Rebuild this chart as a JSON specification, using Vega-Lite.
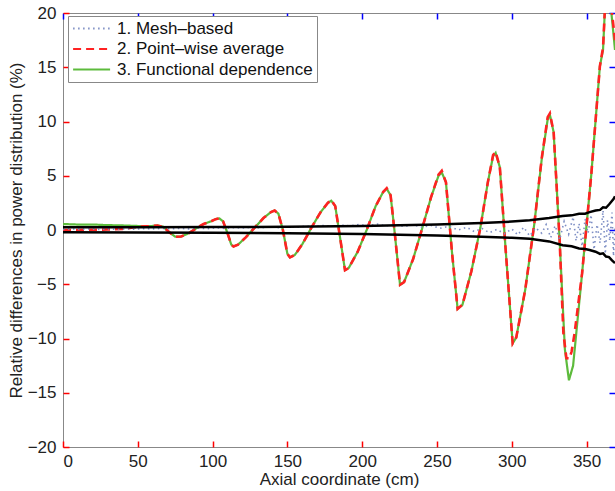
{
 "$schema": "https://vega.github.io/schema/vega-lite/v6.json",
 "width": 552, "height": 434,
 "autosize": {"type": "none"},
 "padding": {"left": 63, "top": 13, "right": 0, "bottom": 44},
 "background": "white",
 "config": {
  "view": {"stroke": "#888", "strokeWidth": 1},
  "font": "Liberation Sans",
  "axis": {"domain": false, "ticks": true, "tickOpacity": 1, "tickWidth": 1.5, "labelColor": "#222", "titleColor": "#222", "labelFontSize": 17, "titleFontSize": 17, "titleFontWeight": "normal", "grid": false},
  "legend": {"orient": "none", "legendX": 5, "legendY": 3, "strokeColor": "#888", "fillColor": "white", "padding": 4, "symbolType": "M-1,0H4", "symbolSize": 219, "symbolStrokeWidth": 2, "labelFontSize": 17, "labelColor": "#111", "labelOffset": 28, "rowPadding": 2.5, "title": null, "labelLimit": 400}
 },
 "data": {"values": [
  {"s":"g","x":0,"y":0.55},{"s":"g","x":10,"y":0.5},{"s":"g","x":20,"y":0.5},{"s":"g","x":30,"y":0.45},{"s":"g","x":40,"y":0.42},{"s":"g","x":50,"y":0.37},{"s":"g","x":58,"y":0.35},{"s":"g","x":63,"y":0.42},{"s":"g","x":67,"y":0.3},{"s":"g","x":71,"y":-0.2},{"s":"g","x":75,"y":-0.62},{"s":"g","x":79,"y":-0.6},{"s":"g","x":84,"y":-0.3},{"s":"g","x":89,"y":0.15},{"s":"g","x":94,"y":0.55},{"s":"g","x":99,"y":0.8},{"s":"g","x":102,"y":1.0},{"s":"g","x":104.5,"y":1.07},{"s":"g","x":107,"y":0.8},{"s":"g","x":110,"y":-0.3},{"s":"g","x":112.5,"y":-1.35},{"s":"g","x":114,"y":-1.52},{"s":"g","x":117,"y":-1.35},{"s":"g","x":122,"y":-0.7},{"s":"g","x":128,"y":0.2},{"s":"g","x":134,"y":1.1},{"s":"g","x":139,"y":1.65},{"s":"g","x":141.5,"y":1.8},{"s":"g","x":144,"y":1.5},{"s":"g","x":147,"y":0.0},{"s":"g","x":150,"y":-2.2},{"s":"g","x":151.7,"y":-2.52},{"s":"g","x":155,"y":-2.3},{"s":"g","x":160,"y":-1.3},{"s":"g","x":166,"y":0.2},{"s":"g","x":172,"y":1.6},{"s":"g","x":177,"y":2.5},{"s":"g","x":179.3,"y":2.7},{"s":"g","x":182,"y":2.2},{"s":"g","x":185,"y":-0.5},{"s":"g","x":188.5,"y":-3.7},{"s":"g","x":191,"y":-3.5},{"s":"g","x":197,"y":-2.0},{"s":"g","x":203,"y":0.0},{"s":"g","x":209,"y":2.2},{"s":"g","x":214,"y":3.5},{"s":"g","x":216.4,"y":3.8},{"s":"g","x":219,"y":3.2},{"s":"g","x":222,"y":-0.6},{"s":"g","x":225.3,"y":-5.05},{"s":"g","x":228,"y":-4.8},{"s":"g","x":234,"y":-2.7},{"s":"g","x":240,"y":0.1},{"s":"g","x":246,"y":3.0},{"s":"g","x":251,"y":5.0},{"s":"g","x":253.2,"y":5.3},{"s":"g","x":256,"y":4.4},{"s":"g","x":260,"y":-2.0},{"s":"g","x":263.8,"y":-7.27},{"s":"g","x":267,"y":-6.9},{"s":"g","x":273,"y":-3.8},{"s":"g","x":279,"y":0.2},{"s":"g","x":284,"y":4.4},{"s":"g","x":287.5,"y":6.8},{"s":"g","x":289.2,"y":7.1},{"s":"g","x":292,"y":5.8},{"s":"g","x":296,"y":-2.0},{"s":"g","x":300.6,"y":-10.45},{"s":"g","x":303,"y":-9.9},{"s":"g","x":309,"y":-5.5},{"s":"g","x":315,"y":0.5},{"s":"g","x":320,"y":6.5},{"s":"g","x":324,"y":10.2},{"s":"g","x":325.5,"y":10.6},{"s":"g","x":328,"y":9.0},{"s":"g","x":332,"y":-1.0},{"s":"g","x":335.5,"y":-11.0},{"s":"g","x":338.2,"y":-13.85},{"s":"g","x":341,"y":-12.5},{"s":"g","x":347,"y":-4.0},{"s":"g","x":353.2,"y":5.2},{"s":"g","x":358.9,"y":15.1},{"s":"g","x":361,"y":16.6},{"s":"g","x":362.3,"y":20.5},{"s":"g","x":364.3,"y":23},{"s":"g","x":366.6,"y":20},{"s":"g","x":369,"y":16.6},
  {"s":"r","x":0,"y":0.0},{"s":"r","x":10,"y":0.0},{"s":"r","x":20,"y":0.02},{"s":"r","x":30,"y":0.05},{"s":"r","x":40,"y":0.1},{"s":"r","x":48,"y":0.25},{"s":"r","x":55,"y":0.35},{"s":"r","x":58,"y":0.35},{"s":"r","x":63,"y":0.42},{"s":"r","x":67,"y":0.3},{"s":"r","x":71,"y":-0.2},{"s":"r","x":75,"y":-0.62},{"s":"r","x":79,"y":-0.6},{"s":"r","x":84,"y":-0.3},{"s":"r","x":89,"y":0.15},{"s":"r","x":94,"y":0.55},{"s":"r","x":99,"y":0.8},{"s":"r","x":102,"y":1.0},{"s":"r","x":104.5,"y":1.07},{"s":"r","x":107,"y":0.8},{"s":"r","x":110,"y":-0.3},{"s":"r","x":112.5,"y":-1.35},{"s":"r","x":114,"y":-1.52},{"s":"r","x":117,"y":-1.35},{"s":"r","x":122,"y":-0.7},{"s":"r","x":128,"y":0.2},{"s":"r","x":134,"y":1.1},{"s":"r","x":139,"y":1.65},{"s":"r","x":141.5,"y":1.8},{"s":"r","x":144,"y":1.5},{"s":"r","x":147,"y":0.0},{"s":"r","x":150,"y":-2.2},{"s":"r","x":151.7,"y":-2.52},{"s":"r","x":155,"y":-2.3},{"s":"r","x":160,"y":-1.3},{"s":"r","x":166,"y":0.2},{"s":"r","x":172,"y":1.6},{"s":"r","x":177,"y":2.5},{"s":"r","x":179.3,"y":2.75},{"s":"r","x":182,"y":2.2},{"s":"r","x":185,"y":-0.5},{"s":"r","x":188.5,"y":-3.7},{"s":"r","x":191,"y":-3.5},{"s":"r","x":197,"y":-2.0},{"s":"r","x":203,"y":0.0},{"s":"r","x":209,"y":2.2},{"s":"r","x":214,"y":3.5},{"s":"r","x":216.4,"y":3.85},{"s":"r","x":219,"y":3.2},{"s":"r","x":222,"y":-0.6},{"s":"r","x":225.3,"y":-5.05},{"s":"r","x":228,"y":-4.8},{"s":"r","x":234,"y":-2.7},{"s":"r","x":240,"y":0.1},{"s":"r","x":246,"y":3.0},{"s":"r","x":251,"y":5.1},{"s":"r","x":253.2,"y":5.45},{"s":"r","x":256,"y":4.4},{"s":"r","x":260,"y":-2.0},{"s":"r","x":263.8,"y":-7.27},{"s":"r","x":267,"y":-6.9},{"s":"r","x":273,"y":-3.8},{"s":"r","x":279,"y":0.2},{"s":"r","x":284,"y":4.4},{"s":"r","x":287.5,"y":6.9},{"s":"r","x":289.2,"y":7.2},{"s":"r","x":292,"y":5.8},{"s":"r","x":296,"y":-2.0},{"s":"r","x":300.6,"y":-10.45},{"s":"r","x":303,"y":-9.9},{"s":"r","x":309,"y":-5.5},{"s":"r","x":315,"y":0.5},{"s":"r","x":320,"y":6.6},{"s":"r","x":324,"y":10.4},{"s":"r","x":325.5,"y":10.75},{"s":"r","x":328,"y":9.0},{"s":"r","x":332,"y":-1.0},{"s":"r","x":334.5,"y":-9.5},{"s":"r","x":336.5,"y":-11.8},{"s":"r","x":338.5,"y":-11.85},{"s":"r","x":340,"y":-11.2},{"s":"r","x":342,"y":-9.5},{"s":"r","x":347,"y":-4.0},{"s":"r","x":353.2,"y":5.2},{"s":"r","x":358.9,"y":15.1},{"s":"r","x":361,"y":16.8},{"s":"r","x":362.3,"y":20.5},{"s":"r","x":364.3,"y":23},{"s":"r","x":366.6,"y":20.5},{"s":"r","x":369,"y":17.5},
  {"s":"m","x":0,"y":0.05},{"s":"m","x":6,"y":0.1},{"s":"m","x":12,"y":0.05},{"s":"m","x":18,"y":0.1},{"s":"m","x":24,"y":0.05},{"s":"m","x":30,"y":0.1},{"s":"m","x":36,"y":0.05},{"s":"m","x":42,"y":0.1},{"s":"m","x":48,"y":0.08},{"s":"m","x":54,"y":0.12},{"s":"m","x":60,"y":0.1},{"s":"m","x":66,"y":0.15},{"s":"m","x":72,"y":0.1},{"s":"m","x":78,"y":0.15},{"s":"m","x":84,"y":0.1},{"s":"m","x":90,"y":0.18},{"s":"m","x":96,"y":0.12},{"s":"m","x":102,"y":0.2},{"s":"m","x":108,"y":0.15},{"s":"m","x":114,"y":0.22},{"s":"m","x":120,"y":0.18},{"s":"m","x":126,"y":0.25},{"s":"m","x":132,"y":0.2},{"s":"m","x":138,"y":0.28},{"s":"m","x":144,"y":0.22},{"s":"m","x":150,"y":0.3},{"s":"m","x":156,"y":0.25},{"s":"m","x":162,"y":0.35},{"s":"m","x":168,"y":0.3},{"s":"m","x":174,"y":0.42},{"s":"m","x":180,"y":0.35},{"s":"m","x":186,"y":0.45},{"s":"m","x":192,"y":0.38},{"s":"m","x":198,"y":0.5},{"s":"m","x":204,"y":0.4},{"s":"m","x":210,"y":0.55},{"s":"m","x":216,"y":0.38},{"s":"m","x":222,"y":0.52},{"s":"m","x":228,"y":0.32},{"s":"m","x":234,"y":0.48},{"s":"m","x":240,"y":0.25},{"s":"m","x":246,"y":0.42},{"s":"m","x":252,"y":0.15},{"s":"m","x":258,"y":0.35},{"s":"m","x":264,"y":0.0},{"s":"m","x":270,"y":0.25},{"s":"m","x":275,"y":-0.15},{"s":"m","x":280,"y":0.15},{"s":"m","x":285,"y":-0.25},{"s":"m","x":290,"y":0.05},{"s":"m","x":295,"y":-0.35},{"s":"m","x":300,"y":0.1},{"s":"m","x":304,"y":-0.45},{"s":"m","x":308,"y":0.25},{"s":"m","x":312,"y":-0.55},{"s":"m","x":316,"y":0.2},{"s":"m","x":320,"y":-0.3},{"s":"m","x":323,"y":0.5},{"s":"m","x":326,"y":-0.7},{"s":"m","x":329,"y":0.4},{"s":"m","x":332,"y":-0.9},{"s":"m","x":335,"y":0.8},{"s":"m","x":338,"y":-0.4},{"s":"m","x":341,"y":1.2},{"s":"m","x":343,"y":-1.0},{"s":"m","x":345,"y":0.6},{"s":"m","x":347,"y":-1.5},{"s":"m","x":349,"y":1.0},{"s":"m","x":351,"y":-0.3},{"s":"m","x":353,"y":1.4},{"s":"m","x":355,"y":-1.8},{"s":"m","x":357,"y":0.5},{"s":"m","x":359,"y":-1.2},{"s":"m","x":361,"y":1.8},{"s":"m","x":362.5,"y":-2.2},{"s":"m","x":364,"y":0.9},{"s":"m","x":365.5,"y":-1.0},{"s":"m","x":367,"y":1.6},{"s":"m","x":368,"y":-2.4},{"s":"m","x":369,"y":0.3},
  {"s":"u","x":0,"y":0.25},{"s":"u","x":50,"y":0.25},{"s":"u","x":100,"y":0.27},{"s":"u","x":150,"y":0.3},{"s":"u","x":200,"y":0.38},{"s":"u","x":250,"y":0.5},{"s":"u","x":280,"y":0.64},{"s":"u","x":300,"y":0.78},{"s":"u","x":312,"y":0.9},{"s":"u","x":325,"y":1.1},{"s":"u","x":334,"y":1.3},{"s":"u","x":340,"y":1.35},{"s":"u","x":345,"y":1.5},{"s":"u","x":349,"y":1.5},{"s":"u","x":352,"y":1.65},{"s":"u","x":356,"y":1.8},{"s":"u","x":359,"y":1.85},{"s":"u","x":361,"y":2.1},{"s":"u","x":363,"y":2.05},{"s":"u","x":365,"y":2.35},{"s":"u","x":366.5,"y":2.6},{"s":"u","x":368,"y":2.85},{"s":"u","x":369,"y":3.1},
  {"s":"l","x":0,"y":-0.2},{"s":"l","x":50,"y":-0.22},{"s":"l","x":100,"y":-0.25},{"s":"l","x":150,"y":-0.3},{"s":"l","x":200,"y":-0.38},{"s":"l","x":250,"y":-0.5},{"s":"l","x":280,"y":-0.62},{"s":"l","x":300,"y":-0.72},{"s":"l","x":312,"y":-0.8},{"s":"l","x":325,"y":-1.05},{"s":"l","x":334,"y":-1.4},{"s":"l","x":340,"y":-1.5},{"s":"l","x":345,"y":-1.7},{"s":"l","x":349,"y":-1.75},{"s":"l","x":352,"y":-1.85},{"s":"l","x":356,"y":-2.0},{"s":"l","x":359,"y":-2.2},{"s":"l","x":361,"y":-2.15},{"s":"l","x":363,"y":-2.45},{"s":"l","x":365,"y":-2.5},{"s":"l","x":367,"y":-2.8},{"s":"l","x":369,"y":-3.05}
 ]},
 "resolve": {"axis": {"x": "independent", "y": "independent"}},
 "layer": [
  {
   "transform": [{"filter": "datum.s == 'g'"}],
   "mark": {"type": "line", "clip": true, "strokeWidth": 2.2},
   "encoding": {
    "x": {"field": "x", "type": "quantitative", "scale": {"domain": [0, 369], "nice": false, "zero": false},
          "axis": {"orient": "bottom", "tickSize": -6, "tickColor": "red", "values": [0,50,100,150,200,250,300,350], "labelPadding": 12, "title": "Axial coordinate (cm)", "titlePadding": 2}},
    "y": {"field": "y", "type": "quantitative", "scale": {"domain": [-20, 20], "nice": false},
          "axis": {"orient": "left", "tickSize": -6, "tickColor": "red", "values": [-20,-15,-10,-5,0,5,10,15,20], "labelPadding": 13, "title": "Relative differences in power distribution (%)", "titlePadding": 2}},
    "color": {"field": "s", "type": "nominal", "scale": {"domain": ["m","r","g"], "range": ["#7d8ec4","#ff2222","#5dbb3c"]},
              "legend": {"labelExpr": "datum.label == 'm' ? '1. Mesh–based' : datum.label == 'r' ? '2. Point–wise average' : '3. Functional dependence'"}},
    "strokeDash": {"field": "s", "type": "nominal", "scale": {"domain": ["m","r","g"], "range": [[1.5,3.5],[8,5],[1,0]]},
              "legend": {"labelExpr": "datum.label == 'm' ? '1. Mesh–based' : datum.label == 'r' ? '2. Point–wise average' : '3. Functional dependence'"}}
   }
  },
  {
   "transform": [{"filter": "datum.s == 'r'"}],
   "mark": {"type": "line", "clip": true, "strokeWidth": 2.6},
   "encoding": {
    "x": {"field": "x", "type": "quantitative", "axis": {"orient": "top", "offset": -6, "tickSize": 6, "tickColor": "blue", "values": [0,50,100,150,200,250,300,350], "labels": false, "title": null}},
    "y": {"field": "y", "type": "quantitative", "axis": {"orient": "right", "offset": -6, "tickSize": 6, "tickColor": "blue", "values": [-20,-15,-10,-5,0,5,10,15,20], "labels": false, "title": null}},
    "color": {"field": "s", "type": "nominal"},
    "strokeDash": {"field": "s", "type": "nominal"}
   }
  },
  {
   "transform": [{"filter": "datum.s == 'm'"}],
   "mark": {"type": "line", "clip": true, "strokeWidth": 1.6},
   "encoding": {
    "x": {"field": "x", "type": "quantitative", "axis": null},
    "y": {"field": "y", "type": "quantitative", "axis": null},
    "color": {"field": "s", "type": "nominal"},
    "strokeDash": {"field": "s", "type": "nominal"}
   }
  },
  {
   "transform": [{"filter": "datum.s == 'u' || datum.s == 'l'"}],
   "mark": {"type": "line", "clip": true, "strokeWidth": 2.5, "color": "black"},
   "encoding": {
    "x": {"field": "x", "type": "quantitative", "axis": null},
    "y": {"field": "y", "type": "quantitative", "axis": null},
    "detail": {"field": "s", "type": "nominal"}
   }
  }
 ]
}
